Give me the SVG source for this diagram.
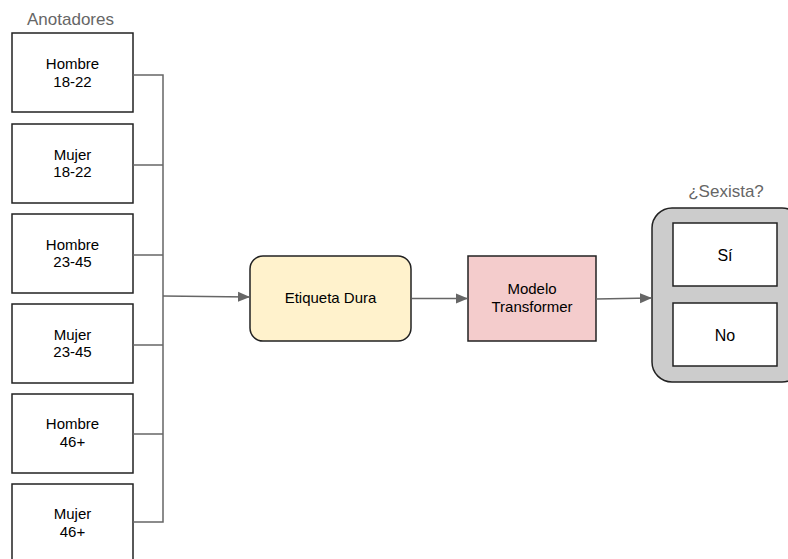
<svg xmlns="http://www.w3.org/2000/svg" width="788" height="559" viewBox="0 0 788 559">
  <defs>
    <style>
      text { font-family: "Liberation Sans", Arial, sans-serif; fill: #000; }
      .lbl { font-size: 15px; text-anchor: middle; }
      .big { font-size: 16px; }
      .cap { font-size: 17px; fill: #666; }
      .box { fill: #fff; stroke: #222; stroke-width: 1.5; }
      .wire { fill: none; stroke: #666; stroke-width: 1.5; }
    </style>
    <marker id="arrow" markerWidth="12" markerHeight="12" refX="11" refY="6" orient="auto" markerUnits="userSpaceOnUse">
      <path d="M0,1 L12,6 L0,11 Z" fill="#666"/>
    </marker>
  </defs>
  <rect width="788" height="559" fill="#fff"/>

  <text class="cap" x="27" y="25">Anotadores</text>

  <g id="hombre-18-22">
    <rect class="box" x="12" y="33" width="121" height="79"/>
    <text class="lbl" x="72.5" y="69">Hombre</text>
    <text class="lbl" x="72.5" y="87">18-22</text>
  </g>
  <g id="mujer-18-22">
    <rect class="box" x="12" y="124" width="121" height="79"/>
    <text class="lbl" x="72.5" y="160">Mujer</text>
    <text class="lbl" x="72.5" y="177">18-22</text>
  </g>
  <g id="hombre-23-45">
    <rect class="box" x="12" y="214" width="121" height="79"/>
    <text class="lbl" x="72.5" y="250">Hombre</text>
    <text class="lbl" x="72.5" y="267">23-45</text>
  </g>
  <g id="mujer-23-45">
    <rect class="box" x="12" y="304" width="121" height="79"/>
    <text class="lbl" x="72.5" y="340">Mujer</text>
    <text class="lbl" x="72.5" y="357">23-45</text>
  </g>
  <g id="hombre-46">
    <rect class="box" x="12" y="394" width="121" height="79"/>
    <text class="lbl" x="72.5" y="429">Hombre</text>
    <text class="lbl" x="72.5" y="447">46+</text>
  </g>
  <g id="mujer-46">
    <rect class="box" x="12" y="484" width="121" height="79"/>
    <text class="lbl" x="72.5" y="519">Mujer</text>
    <text class="lbl" x="72.5" y="537">46+</text>
  </g>

  <g id="etiqueta-dura">
    <rect x="250" y="256" width="161" height="85" rx="13" fill="#fff2cc" stroke="#222" stroke-width="1.5"/>
    <text class="lbl" x="330.5" y="303">Etiqueta Dura</text>
  </g>

  <g id="modelo-transformer">
    <rect x="468" y="256" width="128" height="85" fill="#f4cccc" stroke="#222" stroke-width="1.5"/>
    <text class="lbl" x="532" y="294">Modelo</text>
    <text class="lbl" x="532" y="312">Transformer</text>
  </g>

  <g id="sexista">
    <text class="cap" x="726" y="197" text-anchor="middle">¿Sexista?</text>
    <rect x="652" y="208" width="150" height="174" rx="20" fill="#ccc" stroke="#222" stroke-width="1.5"/>
    <g id="si">
      <rect class="box" x="673" y="223" width="104" height="63"/>
      <text class="lbl big" x="725" y="261">Sí</text>
    </g>
    <g id="no">
      <rect class="box" x="673" y="303" width="104" height="63"/>
      <text class="lbl big" x="725" y="341">No</text>
    </g>
  </g>

  <g id="connectors">
    <path class="wire" d="M133,75 H163 V522 H133"/>
    <path class="wire" d="M133,165 H163"/>
    <path class="wire" d="M133,255 H163"/>
    <path class="wire" d="M133,345 H163"/>
    <path class="wire" d="M133,434 H163"/>
    <path class="wire" d="M163,296 L249,297" marker-end="url(#arrow)"/>
    <path class="wire" d="M412,298.5 H467" marker-end="url(#arrow)"/>
    <path class="wire" d="M596,299 L651,298" marker-end="url(#arrow)"/>
  </g>
</svg>
